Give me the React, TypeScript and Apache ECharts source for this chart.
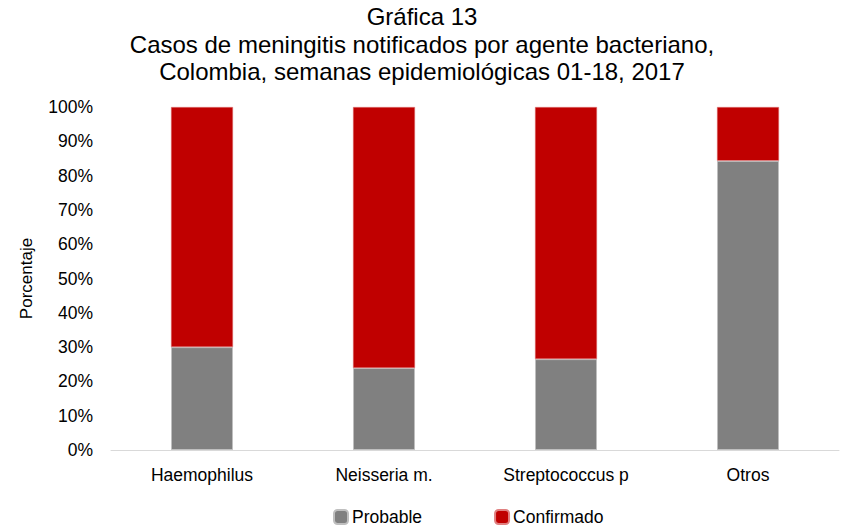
import React, { useEffect, useRef } from "react";
import * as echarts from "echarts";

const categories = ["Haemophilus", "Neisseria m.", "Streptococcus p", "Otros"];
const probable = [30.0, 23.9, 26.5, 84.3];
const confirmado = [70.0, 76.1, 73.5, 15.7];
const yTicks = [0, 10, 20, 30, 40, 50, 60, 70, 80, 90, 100];

export default function App() {
  const ref = useRef<HTMLDivElement>(null);
  useEffect(() => {
    if (!ref.current) return;
    const chart = echarts.init(ref.current, undefined, { renderer: "svg" });
    const font = "'Liberation Sans', Arial, sans-serif";
    chart.setOption({
      animation: false,
      backgroundColor: "#ffffff",
      title: {
        text: "Gráfica 13\nCasos de meningitis notificados por agente bacteriano,\nColombia, semanas epidemiológicas 01-18, 2017",
        left: "center",
        top: -2,
        textStyle: {
          fontFamily: font,
          fontSize: 24,
          fontWeight: "normal",
          color: "#000",
          lineHeight: 27.5,
          align: "center",
        },
      },
      legend: {
        bottom: 0,
        left: 328,
        itemWidth: 14,
        itemHeight: 14,
        itemGap: 72,
        icon: "roundRect",
        textStyle: { fontFamily: font, fontSize: 17.5, color: "#000", padding: [0, 0, 0, -1] },
        data: ["Probable", "Confirmado"],
      },
      grid: { left: 111, right: 5, top: 107, bottom: 81, containLabel: false },
      xAxis: {
        type: "category",
        data: categories,
        axisLine: { lineStyle: { color: "#d9d9d9" } },
        axisTick: { show: false },
        axisLabel: { fontFamily: font, fontSize: 17.5, color: "#000", margin: 16 },
      },
      yAxis: {
        type: "value",
        min: 0,
        max: 100,
        interval: 10,
        name: "Porcentaje",
        nameLocation: "middle",
        nameGap: 76,
        nameTextStyle: { fontFamily: font, fontSize: 17, color: "#000" },
        axisLine: { show: false },
        axisTick: { show: false },
        splitLine: { show: false },
        axisLabel: {
          fontFamily: font,
          fontSize: 17.5,
          color: "#000",
          margin: 18,
          formatter: (v: number) => (yTicks.includes(v) ? v + "%" : ""),
        },
      },
      series: [
        {
          name: "Probable",
          type: "bar",
          stack: "total",
          data: probable,
          barWidth: 62,
          itemStyle: { color: "#808080", borderColor: "#bfbfbf", borderWidth: 1 },
        },
        {
          name: "Confirmado",
          type: "bar",
          stack: "total",
          data: confirmado,
          barWidth: 62,
          itemStyle: { color: "#c00000", borderColor: "#e08080", borderWidth: 0.5 },
        },
      ],
    });
    return () => chart.dispose();
  }, []);
  return (
    <div
      ref={ref}
      style={{ position: "absolute", left: 0, top: 0, width: 844, height: 531 }}
    />
  );
}
